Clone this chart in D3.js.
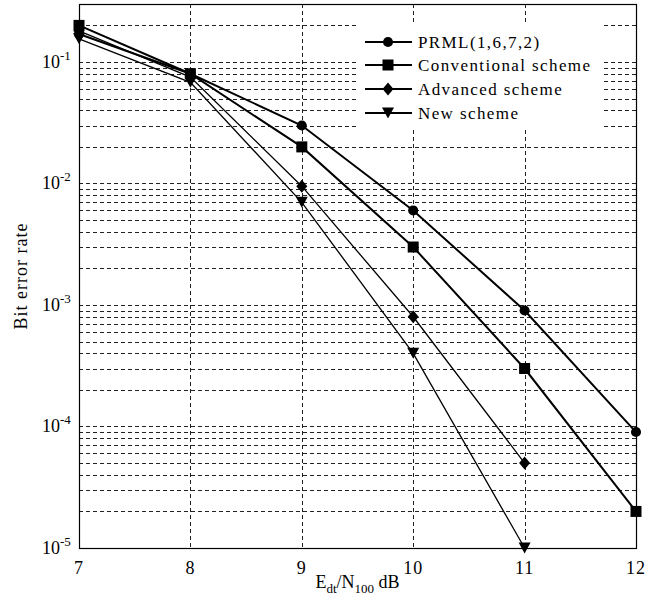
<!DOCTYPE html>
<html>
<head>
<meta charset="utf-8">
<script src="https://cdn.jsdelivr.net/npm/d3@7"></script>
<style>
  body { margin: 0; background: #fff; }
  svg text { font-family: "Liberation Serif", "DejaVu Serif", serif; fill: #000; }
</style>
</head>
<body>
<script>
// data
const snr = [7, 8, 9, 10, 11, 12];
const prml = [0.17, 0.08, 0.03, 0.006, 0.0009, 0.00009];
const conventional = [0.2, 0.08, 0.02, 0.003, 0.0003, 0.00002];
const advanced = [0.18, 0.075, 0.0095, 0.0008, 0.00005];
const newScheme = [0.155, 0.068, 0.007, 0.0004, 0.00001];

const seriesNames = ["PRML(1,6,7,2)", "Conventional scheme", "Advanced scheme", "New scheme"];
const xTicks = [7, 8, 9, 10, 11, 12];
const yExponents = [-1, -2, -3, -4, -5];

//svg size
const w = 670;
const h = 600;

//plot box
const plotLeft = 79;
const plotRight = 636;
const plotTop = 4;
const plotBottom = 548;

const x = d3.scaleLinear().domain([7, 12]).range([plotLeft, plotRight]);
const y = d3.scaleLog().domain([1e-5, 0.3]).range([plotBottom, plotTop]);

const svg = d3.select("body").append("svg")
  .attr("width", w).attr("height", h)
  .attr("font-family", "Liberation Serif, serif");

// marker shapes
const markerPath = (kind) => {
  if (kind === "circle") return d3.symbol(d3.symbolCircle, 80)();
  if (kind === "square") return d3.symbol(d3.symbolSquare, 121)();
  if (kind === "diamond") return "M0,-6.5L5.5,0L0,6.5L-5.5,0Z";
  return "M-6,-5.5L6,-5.5L0,5.5Z";
};

const series = [
  { name: seriesNames[0], values: prml, marker: "circle", width: 2 },
  { name: seriesNames[1], values: conventional, marker: "square", width: 2 },
  { name: seriesNames[2], values: advanced, marker: "diamond", width: 1.3 },
  { name: seriesNames[3], values: newScheme, marker: "triangle", width: 1.3 },
];

// grid
const grid = svg.append("g").attr("stroke", "#222").attr("stroke-width", 1)
  .attr("stroke-dasharray", "4,3").attr("shape-rendering", "crispEdges");

let hLines = [];
for (let e = -5; e <= -1; e++) {
  for (let m = 1; m <= 9; m++) {
    const v = m * Math.pow(10, e);
    if (v > 1e-5 && v < 0.3) hLines.push(v);
  }
}
grid.selectAll("line.h").data(hLines).enter().append("line")
  .attr("x1", plotLeft).attr("x2", plotRight)
  .attr("y1", (d) => Math.round(y(d)) + 0.5)
  .attr("y2", (d) => Math.round(y(d)) + 0.5);

grid.selectAll("line.v").data(xTicks.slice(1, -1)).enter().append("line")
  .attr("y1", plotTop).attr("y2", plotBottom)
  .attr("x1", (d) => Math.round(x(d)) + 0.5)
  .attr("x2", (d) => Math.round(x(d)) + 0.5);

// frame
svg.append("rect")
  .attr("x", plotLeft + 0.5).attr("y", plotTop + 0.5)
  .attr("width", plotRight - plotLeft).attr("height", plotBottom - plotTop)
  .attr("fill", "none").attr("stroke", "#000").attr("stroke-width", 1.2);

// curves
const line = d3.line().x((d) => x(d[0])).y((d) => y(d[1]));

series.forEach((s) => {
  const pts = s.values.map((v, i) => [snr[i], v]);
  svg.append("path")
    .attr("d", line(pts))
    .attr("fill", "none")
    .attr("stroke", "#000")
    .attr("stroke-width", s.width);

  svg.selectAll(null).data(pts).enter().append("path")
    .attr("d", markerPath(s.marker))
    .attr("transform", (d) => `translate(${x(d[0])},${y(d[1])})`)
    .attr("fill", "#000");
});

// legend
svg.append("rect")
  .attr("x", 358).attr("y", 22).attr("width", 245).attr("height", 106)
  .attr("fill", "#fff");

const legendY = [42, 65, 89, 113];
series.forEach((s, i) => {
  const ly = legendY[i];
  svg.append("line")
    .attr("x1", 365).attr("x2", 412).attr("y1", ly).attr("y2", ly)
    .attr("stroke", "#000").attr("stroke-width", 2);
  svg.append("path")
    .attr("d", markerPath(s.marker))
    .attr("transform", `translate(388,${ly})`)
    .attr("fill", "#000");
  svg.append("text")
    .attr("x", 418).attr("y", ly + 6)
    .attr("font-size", 17)
    .attr("letter-spacing", 1.4)
    .text(s.name);
});

// x tick labels
svg.selectAll("text.xt").data(xTicks).enter().append("text")
  .attr("x", (d) => x(d)).attr("y", 574)
  .attr("text-anchor", "middle").attr("font-size", 18)
  .attr("letter-spacing", 1)
  .text((d) => d);

// y tick labels
yExponents.forEach((e) => {
  const t = svg.append("text")
    .attr("x", 42).attr("y", y(Math.pow(10, e)) + 6)
    .attr("font-size", 18);
  t.append("tspan").text("10");
  t.append("tspan").attr("font-size", 13).attr("dy", -8).text(String(e));
});

// axis titles
const xt = svg.append("text")
  .attr("x", (plotLeft + plotRight) / 2).attr("y", 588)
  .attr("text-anchor", "middle").attr("font-size", 18);
xt.append("tspan").text("E");
xt.append("tspan").attr("font-size", 13).attr("dy", 5).text("dt");
xt.append("tspan").attr("dy", -5).text("/N");
xt.append("tspan").attr("font-size", 13).attr("dy", 5).text("100");
xt.append("tspan").attr("dy", -5).text(" dB");

svg.append("text")
  .attr("transform", `translate(27,${(plotTop + plotBottom) / 2}) rotate(-90)`)
  .attr("text-anchor", "middle").attr("font-size", 18)
  .attr("letter-spacing", 1)
  .text("Bit error rate");
</script>
</body>
</html>
